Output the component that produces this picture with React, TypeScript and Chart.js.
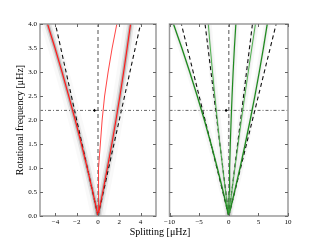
import React, { useEffect, useRef } from "react";
import { Chart, registerables } from "chart.js";

Chart.register(...registerables);

// ---- data ----
const freqY = [0, 0.5, 1, 1.5, 2, 2.5, 3, 3.5, 4];
const redM1 = [0, -0.49, -1.01, -1.56, -2.14, -2.75, -3.38, -4.04, -4.74];
const red0 = [0, 0.02, 0.08, 0.22, 0.39, 0.62, 0.95, 1.33, 1.77];
const redP1 = [0, 0.45, 0.88, 1.3, 1.69, 2.06, 2.41, 2.74, 3.06];
const greenM2 = [0, -0.93, -1.93, -2.99, -4.12, -5.32, -6.59, -7.92, -9.33];
const greenM1 = [0, -0.52, -1.02, -1.49, -1.93, -2.35, -2.74, -3.11, -3.45];
const green0 = [0, 0.06, 0.15, 0.26, 0.4, 0.56, 0.74, 0.95, 1.2];
const greenP1 = [0, 0.51, 1.04, 1.58, 2.13, 2.7, 3.29, 3.89, 4.5];
const greenP2 = [0, 0.97, 1.9, 2.78, 3.62, 4.41, 5.15, 5.85, 6.5];
const guideY = [0, 4];
const leftGuideTops = [-4, 4];
const rightGuideTops = [-8, -4, 4, 8];
const rotFreq = 2.2;
const leftMarkerX = -0.33;
const rightMarkerX = -0.45;
const leftRange = [-5.45, 5.45];
const rightRange = [-10, 10];
const leftXTicks = [-4, -2, 0, 2, 4];
const rightXTicks = [-10, -5, 0, 5, 10];
const yTicks = [0, 0.5, 1, 1.5, 2, 2.5, 3, 3.5, 4];
const yRange = [0, 4];

const SERIF = "'Liberation Serif', 'Times New Roman', serif";

const curve = (xs: number[]) => xs.map((x, i) => ({ x, y: freqY[i] }));
const guide = (top: number) => guideY.map((y, i) => ({ x: i === 0 ? 0 : top, y }));

const lineDs = (data: any[], color: string, width: number, dash: number[] = [], order = 0) => ({
  data,
  showLine: true,
  borderColor: color,
  borderWidth: width,
  borderDash: dash,
  borderJoinStyle: "round",
  pointRadius: 0,
  fill: false,
  order,
});

const framePlugin = {
  id: "frame",
  afterDatasetsDraw(chart: any) {
    const { ctx, chartArea: a, scales } = chart;
    ctx.save();
    ctx.strokeStyle = "#9a9a9a";
    ctx.lineWidth = 1.5;
    ctx.strokeRect(a.left, a.top, a.right - a.left, a.bottom - a.top);
    ctx.strokeStyle = "#666";
    ctx.lineWidth = 1;
    const L = 3;
    const seg = (x1: number, y1: number, x2: number, y2: number) => {
      ctx.beginPath();
      ctx.moveTo(x1, y1);
      ctx.lineTo(x2, y2);
      ctx.stroke();
    };
    scales.x.ticks.forEach((t: any) => {
      const px = Math.round(scales.x.getPixelForValue(t.value)) + 0.5;
      seg(px, a.bottom, px, a.bottom - L);
      seg(px, a.top, px, a.top + L);
    });
    scales.y.ticks.forEach((t: any) => {
      const py = Math.round(scales.y.getPixelForValue(t.value)) + 0.5;
      seg(a.left, py, a.left + L, py);
      seg(a.right, py, a.right - L, py);
    });
    ctx.restore();
  },
};

function buildOptions(
  xRange: number[],
  xTicks: number[],
  showYLabels: boolean,
  yWidth: number,
  padLeft: number,
  padRight: number
): any {
  return {
    responsive: false,
    animation: false,
    devicePixelRatio: 1,
    layout: { padding: { top: 24, right: padRight, left: padLeft, bottom: 0 } },
    plugins: { legend: { display: false }, tooltip: { enabled: false } },
    scales: {
      x: {
        type: "linear",
        min: xRange[0],
        max: xRange[1],
        grid: { display: false, drawTicks: false },
        border: { display: false },
        afterBuildTicks: (s: any) => {
          s.ticks = xTicks.map((v) => ({ value: v }));
        },
        afterFit: (s: any) => {
          s.height = 24;
        },
        ticks: {
          padding: 2,
          maxRotation: 0,
          autoSkip: false,
          color: "#000",
          font: { family: SERIF, size: 7 },
          callback: (v: any) => String(v).replace("-", "\u2212"),
        },
      },
      y: {
        type: "linear",
        min: yRange[0],
        max: yRange[1],
        grid: { display: false, drawTicks: false },
        border: { display: false },
        afterBuildTicks: (s: any) => {
          s.ticks = yTicks.map((v) => ({ value: v }));
        },
        afterFit: (s: any) => {
          s.width = yWidth;
        },
        title: {
          display: showYLabels,
          text: "Rotational frequency [\u03bcHz]",
          color: "#000",
          font: { family: SERIF, size: 10 },
          padding: { top: 14, bottom: 0 },
        },
        ticks: {
          display: showYLabels,
          padding: 3,
          autoSkip: false,
          color: "#000",
          font: { family: SERIF, size: 7 },
          callback: (v: any) => Number(v).toFixed(1),
        },
      },
    },
  };
}

export default function App() {
  const leftRef = useRef<HTMLCanvasElement>(null);
  const rightRef = useRef<HTMLCanvasElement>(null);

  useEffect(() => {
    const bandsL: any[] = [];
    [redM1, redP1].forEach((xs) => {
      bandsL.push(lineDs(curve(xs), "rgba(0,0,0,0.025)", 14, [], 12));
      bandsL.push(lineDs(curve(xs), "rgba(0,0,0,0.08)", 7, [], 11));
      bandsL.push(lineDs(curve(xs), "rgba(0,0,0,0.2)", 3.5, [], 10));
    });

    const left = new Chart(leftRef.current as HTMLCanvasElement, {
      type: "scatter",
      data: {
        datasets: [
          ...bandsL,
          lineDs(guideY.map((y) => ({ x: 0, y })), "#8c8c8c", 1.5, [4, 3], 5),
          ...leftGuideTops.map((t) => lineDs(guide(t), "#111", 1.1, [4, 3], 4)),
          lineDs(
            leftRange.map((x) => ({ x, y: rotFreq })),
            "#666",
            1,
            [3, 2, 1, 2],
            3
          ),
          lineDs(curve(redM1), "#ff1a1a", 1.2, [], 2),
          lineDs(curve(redP1), "#ff1a1a", 1.2, [], 2),
          lineDs(curve(red0), "#ff3030", 0.9, [], 2),
          {
            data: [{ x: leftMarkerX, y: rotFreq }],
            pointStyle: "rectRot",
            pointRadius: 1.6,
            backgroundColor: "#000",
            borderWidth: 0,
            showLine: false,
            order: 0,
          },
        ],
      },
      options: buildOptions(leftRange, leftXTicks, true, 40, 0, 2),
      plugins: [framePlugin],
    } as any);

    const bandsR: any[] = [];
    [greenM2, greenM1, green0, greenP1, greenP2].forEach((xs) => {
      bandsR.push(lineDs(curve(xs), "rgba(0,0,0,0.03)", 7, [], 11));
      bandsR.push(lineDs(curve(xs), "rgba(0,0,0,0.06)", 3, [], 10));
    });

    const right = new Chart(rightRef.current as HTMLCanvasElement, {
      type: "scatter",
      data: {
        datasets: [
          ...bandsR,
          lineDs(guideY.map((y) => ({ x: 0, y })), "#8c8c8c", 1.5, [4, 3], 5),
          ...rightGuideTops.map((t) => lineDs(guide(t), "#111", 1.1, [4, 3], 4)),
          lineDs(
            rightRange.map((x) => ({ x, y: rotFreq })),
            "#666",
            1,
            [3, 2, 1, 2],
            3
          ),
          lineDs(curve(greenM2), "#1e8a1e", 1.3, [], 2),
          lineDs(curve(greenM1), "#4caf4c", 1.0, [], 2),
          lineDs(curve(green0), "#1e8a1e", 1.2, [], 2),
          lineDs(curve(greenP1), "#4caf4c", 1.0, [], 2),
          lineDs(curve(greenP2), "#1e8a1e", 1.3, [], 2),
          {
            data: [{ x: rightMarkerX, y: rotFreq }],
            pointStyle: "rectRot",
            pointRadius: 1.6,
            backgroundColor: "#000",
            borderWidth: 0,
            showLine: false,
            order: 0,
          },
        ],
      },
      options: buildOptions(rightRange, rightXTicks, false, 0, 9.5, 32),
      plugins: [framePlugin],
    } as any);

    return () => {
      left.destroy();
      right.destroy();
    };
  }, []);

  return (
    <div
      style={{
        position: "absolute",
        left: 0,
        top: 0,
        width: 320,
        height: 240,
        background: "#fff",
        overflow: "hidden",
      }}
    >
      <div style={{ position: "absolute", left: 0, top: 0, width: 160, height: 240 }}>
        <canvas ref={leftRef} width={160} height={240} />
      </div>
      <div style={{ position: "absolute", left: 160, top: 0, width: 160, height: 240 }}>
        <canvas ref={rightRef} width={160} height={240} />
      </div>
      <div
        style={{
          position: "absolute",
          left: 0,
          top: 226,
          width: 320,
          textAlign: "center",
          fontFamily: SERIF,
          fontSize: 10,
          lineHeight: "12px",
          color: "#000",
        }}
      >
        Splitting [{"\u03bc"}Hz]
      </div>
    </div>
  );
}
